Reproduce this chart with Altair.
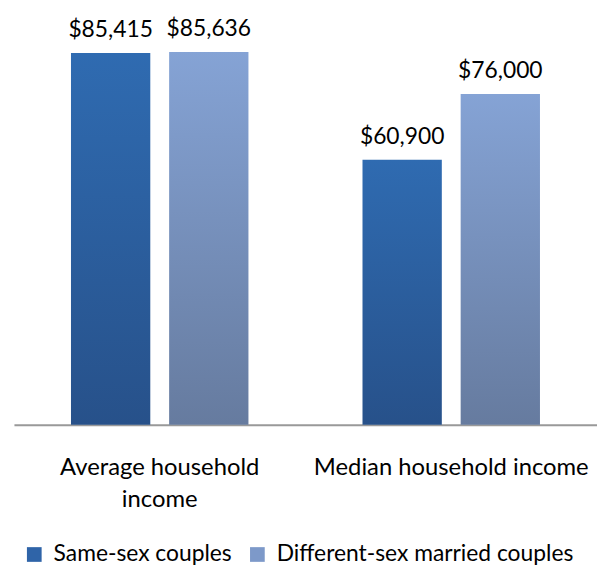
import altair as alt
import pandas as pd

groups = ["Average household income", "Median household income"]
series = ["Same-sex couples", "Different-sex married couples"]
same_sex = [85415, 60900]
diff_sex = [85636, 76000]

rows = []
for g, a, b in zip(groups, same_sex, diff_sex):
    rows.append({"group": g, "series": series[0], "value": a})
    rows.append({"group": g, "series": series[1], "value": b})
df = pd.DataFrame(rows)

FONT = "Lato"

grad_same = alt.Gradient(gradient="linear", x1=0, y1=0, x2=0, y2=1,
                         stops=[alt.GradientStop(color="#2F6BB1", offset=0),
                                alt.GradientStop(color="#27518A", offset=1)])
grad_diff = alt.Gradient(gradient="linear", x1=0, y1=0, x2=0, y2=1,
                         stops=[alt.GradientStop(color="#85A3D5", offset=0),
                                alt.GradientStop(color="#667B9F", offset=1)])

base = alt.Chart(df).encode(
    x=alt.X("group:N", sort=groups, title=None,
            scale=alt.Scale(paddingInner=0, paddingOuter=0),
            axis=alt.Axis(labelAngle=0, ticks=False, domainColor="#999999", domainWidth=2,
                          labelFontSize=24, labelColor="#000000", labelPadding=43,
                          labelLineHeight=32, labelFont=FONT, labelBaseline="middle",
                          labelLimit=0,
                          labelExpr="datum.label == 'Average household income' ? ['Average household', 'income'] : datum.label")),
    xOffset=alt.XOffset("series:N", sort=series,
                        scale=alt.Scale(paddingInner=0.192, paddingOuter=0.581)),
    y=alt.Y("value:Q", scale=alt.Scale(domain=[0, 95200]), axis=None),
)

bars_same = base.transform_filter(alt.datum.series == series[0]).mark_bar(color=grad_same)
bars_diff = base.transform_filter(alt.datum.series == series[1]).mark_bar(color=grad_diff)

legend_layer = base.mark_square(opacity=0, size=1).encode(
    color=alt.Color("series:N", sort=series,
                    scale=alt.Scale(domain=series, range=["#2F64A8", "#7D99C9"]),
                    legend=alt.Legend(title=None, orient="none", legendX=9, legendY=537,
                                      direction="horizontal", symbolType="square",
                                      symbolSize=220, symbolOpacity=1, symbolStrokeWidth=0,
                                      labelFontSize=23, labelFont=FONT, labelColor="#000000",
                                      labelLimit=0, columnPadding=14, labelOffset=8))
)

labels = base.mark_text(baseline="alphabetic", dy=-16, fontSize=23, font=FONT, color="#000000").encode(
    text=alt.Text("value:Q", format="$,.0f")
)

chart = alt.layer(bars_same, bars_diff, legend_layer, labels).properties(
    width=588, height=418,
    autosize=alt.AutoSizeParams(type="none"),
    padding={"left": 6, "top": 0, "right": 0, "bottom": 145},
).configure(font=FONT).configure_view(stroke=None, strokeWidth=0)

chart.save("out.html", embed_options={"renderer": "svg", "actions": False})
